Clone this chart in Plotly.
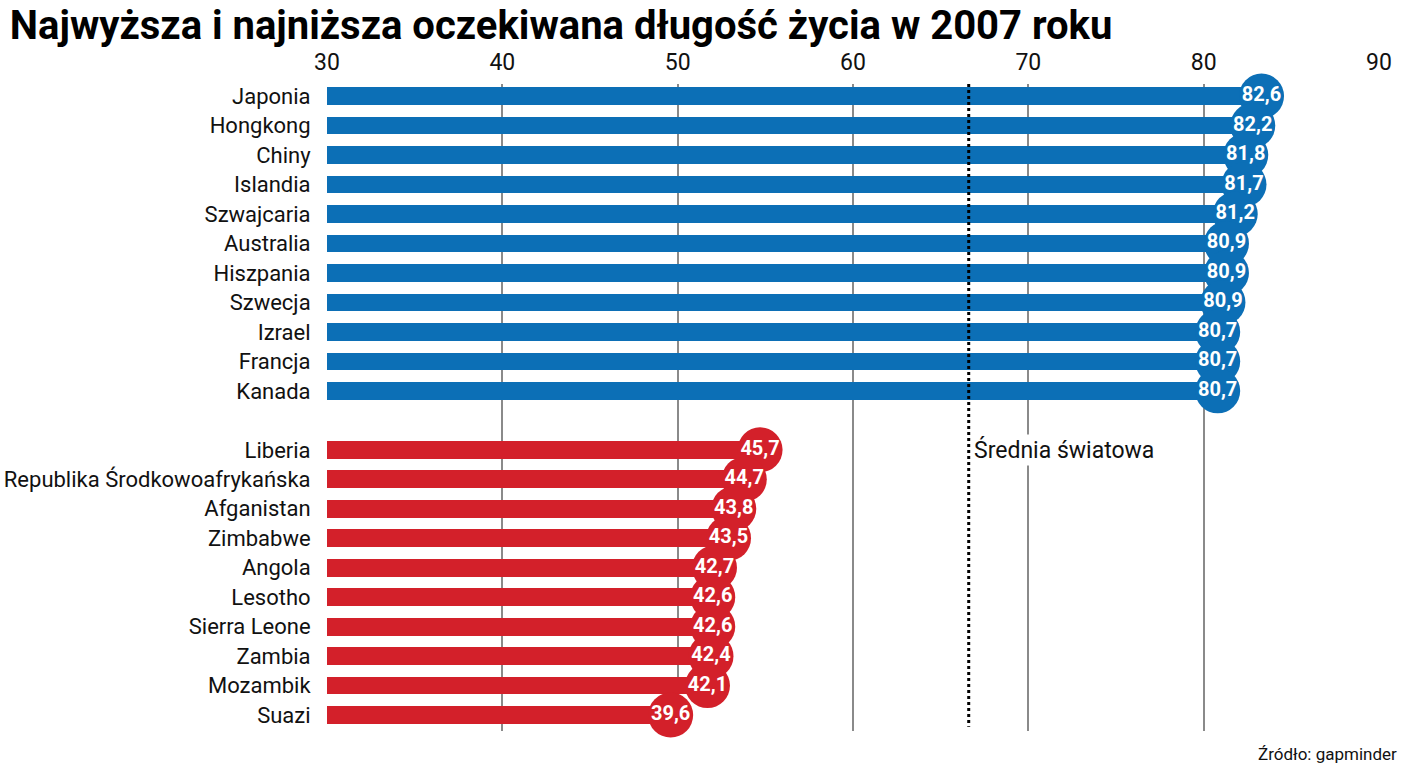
import plotly.graph_objects as go

# ---- data ----
top_countries = ["Japonia", "Hongkong", "Chiny", "Islandia", "Szwajcaria", "Australia",
                 "Hiszpania", "Szwecja", "Izrael", "Francja", "Kanada"]
top_values = [82.6, 82.2, 81.8, 81.7, 81.2, 80.9, 80.9, 80.9, 80.7, 80.7, 80.7]
# where each bar visibly ends on the printed axis
top_bar_end = [83.3, 82.8, 82.4, 82.3, 81.8, 81.3, 81.3, 81.1, 80.8, 80.8, 80.8]

bottom_countries = ["Liberia", "Republika Środkowoafrykańska", "Afganistan", "Zimbabwe",
                    "Angola", "Lesotho", "Sierra Leone", "Zambia", "Mozambik", "Suazi"]
bottom_values = [45.7, 44.7, 43.8, 43.5, 42.7, 42.6, 42.6, 42.4, 42.1, 39.6]
bottom_bar_end = [54.7, 53.8, 53.2, 52.9, 52.1, 52.0, 52.0, 51.9, 51.7, 49.6]

world_average_pos = 66.6
x_ticks = [30, 40, 50, 60, 70, 80, 90]

# ---- styling ----
BLUE = "#0c6fb6"
RED = "#d3202a"
FONT = "Roboto, 'Liberation Sans', sans-serif"

top_rows = list(range(len(top_countries)))
bottom_rows = [len(top_countries) + 1 + i for i in range(len(bottom_countries))]

def fmt(v):
    return f"{v:.1f}".replace(".", ",")

fig = go.Figure()

for rows, ends, vals, col in [(top_rows, top_bar_end, top_values, BLUE),
                              (bottom_rows, bottom_bar_end, bottom_values, RED)]:
    fig.add_trace(go.Bar(
        y=rows, x=[e - 30 for e in ends], base=30, orientation="h",
        marker=dict(color=col, line=dict(width=0)), width=0.6,
        hoverinfo="skip", showlegend=False))
    fig.add_trace(go.Scatter(
        y=rows, x=ends, mode="markers+text",
        marker=dict(size=45, color=col, line=dict(width=0)),
        text=[fmt(v) for v in vals], textposition="middle center",
        textfont=dict(family=FONT, size=20, color="white", weight="bold"),
        cliponaxis=False, showlegend=False, hoverinfo="skip"))

fig.add_shape(type="line", xref="x", yref="y",
              x0=world_average_pos, x1=world_average_pos, y0=-0.41, y1=21.4,
              line=dict(color="black", width=3, dash="dot"), layer="above")

fig.add_annotation(x=world_average_pos, y=bottom_rows[0], xref="x", yref="y",
                   text="Średnia światowa", showarrow=False, xanchor="left",
                   xshift=3, bgcolor="white",
                   font=dict(family=FONT, size=23, color="#111"))

fig.add_annotation(x=1.019, y=-0.035, xref="paper", yref="paper",
                   text="Źródło: gapminder", showarrow=False, xanchor="right",
                   yanchor="middle", font=dict(family=FONT, size=17, color="#111"))

fig.update_layout(
    width=1408, height=768,
    margin=dict(l=327, r=29, t=84, b=37, autoexpand=False),
    paper_bgcolor="white", plot_bgcolor="white",
    bargap=0,
    title=dict(text="<b>Najwyższa i najniższa oczekiwana długość życia w 2007 roku</b>",
               x=0.007, xanchor="left", xref="container",
               y=0.986, yanchor="top", yref="container",
               font=dict(family=FONT, size=40, color="black")),
    xaxis=dict(range=[30, 90], side="top", tickvals=x_ticks,
               ticktext=[str(t) for t in x_ticks], automargin=False,
               showgrid=True, gridcolor="#8a8a8a", gridwidth=1.5,
               zeroline=False, showline=False, ticks="outside", ticklen=4,
               tickcolor="rgba(0,0,0,0)",
               tickfont=dict(family=FONT, size=23, color="#111")),
    yaxis=dict(range=[21.54, -0.41], tickvals=top_rows + bottom_rows,
               ticktext=top_countries + bottom_countries, automargin=False,
               showgrid=False, zeroline=False, showline=False,
               ticks="outside", ticklen=11, tickcolor="rgba(0,0,0,0)",
               tickfont=dict(family=FONT, size=22, color="#111")),
)

fig.write_html("out.html", config={"displayModeBar": False},
               post_script="document.body.style.margin='0';document.body.style.overflow='hidden';")
